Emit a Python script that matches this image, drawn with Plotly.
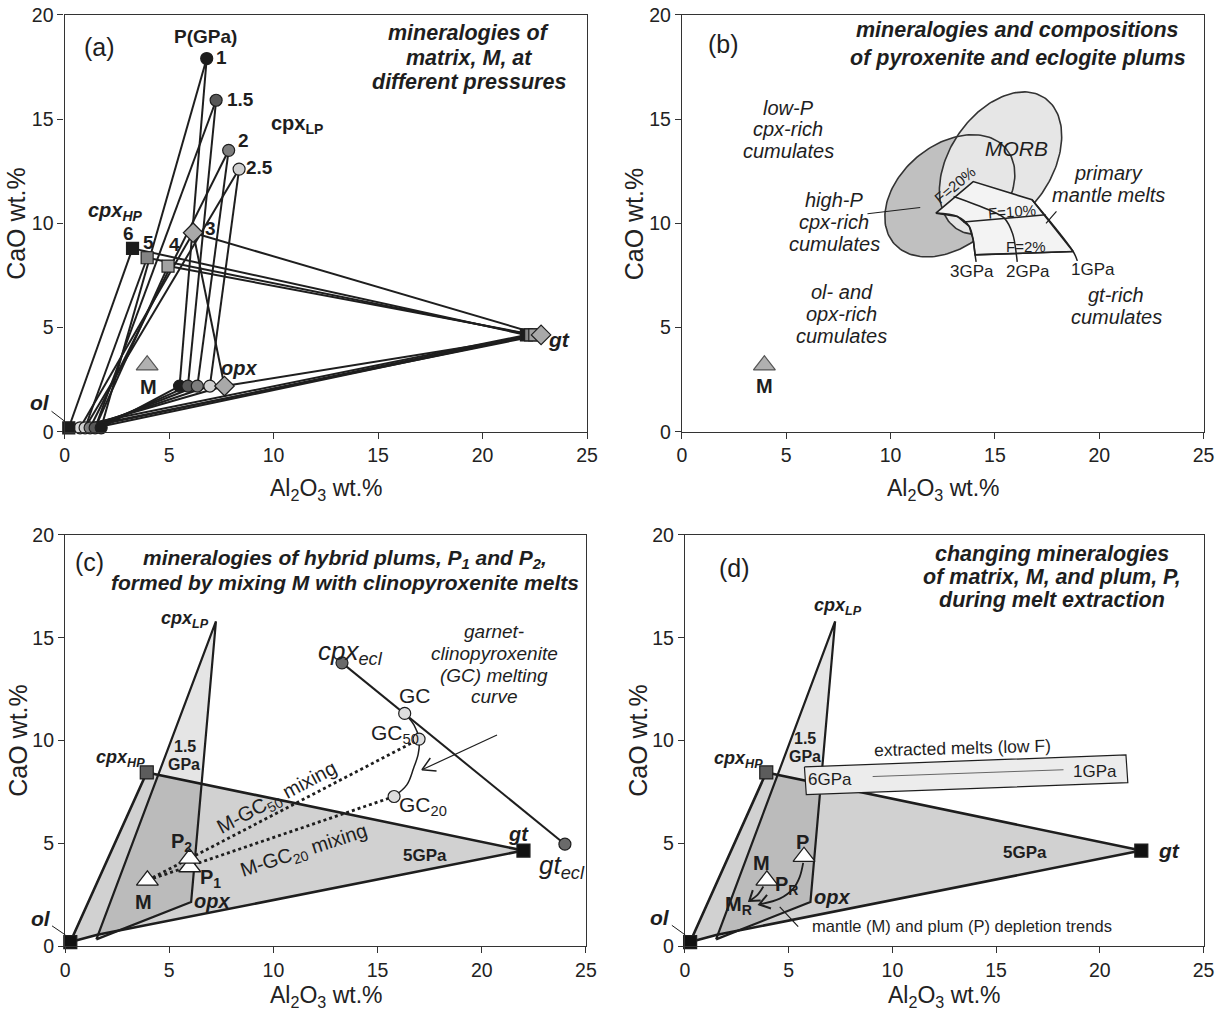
import numpy as np
import plotly.graph_objects as go

FONT = "Liberation Sans, Arial, Helvetica, sans-serif"
INK = "#1e1e1e"
W, H = 1217, 1023

# ---------------- axes ----------------
al_ticks = [0, 5, 10, 15, 20, 25]
ca_ticks = [0, 5, 10, 15, 20]

# ---------------- (a) matrix mineralogy at different pressures ----------------
lp_labels = ["1", "1.5", "2", "2.5"]
lp_cpx_al = [6.8, 7.25, 7.85, 8.35]
lp_cpx_ca = [17.9, 15.9, 13.5, 12.6]
lp_opx_al = [5.5, 5.9, 6.35, 6.95]
lp_opx_ca = [2.2, 2.2, 2.2, 2.2]
lp_olsp_al = [1.75, 1.46, 1.22, 0.98]
lp_olsp_ca = [0.2, 0.2, 0.2, 0.2]
lp_fill = ["#1c1c1c", "#575757", "#7d7d7d", "#d0d0d0"]

hp_labels = ["3", "4", "5", "6"]
hp_cpx_al = [6.15, 4.95, 3.95, 3.25]
hp_cpx_ca = [9.55, 7.95, 8.35, 8.8]
hp_ol_al = [0.74, 1.46, 0.98, 0.2]
hp_ol_ca = [0.2, 0.2, 0.2, 0.2]
hp_gt_al = [22.8, 22.5, 22.3, 22.1]
hp_gt_ca = [4.65, 4.65, 4.65, 4.65]
hp_fill = ["#a9a9a9", "#a2a2a2", "#858585", "#1c1c1c"]
hp_symbol = ["diamond", "square", "square", "square"]
opx_3gpa = [7.65, 2.2]

matrix_M = [3.95, 3.2]

# ---------------- (b) compositional fields ----------------
field_names = ["high-P cpx-rich cumulates", "MORB"]
field_al = [12.84, 15.27]
field_ca = [11.32, 12.88]
field_a = [3.52, 3.78]
field_b = [2.43, 2.45]
field_tilt = [40, 56]

# primary mantle melts: isobars and melt-fraction contours
iso3_al = [12.17, 13.2, 13.77, 13.96, 14.05, 14.1]
iso3_ca = [10.49, 10.33, 9.85, 9.21, 8.49, 8.15]
iso2_al = [13.02, 14.7, 15.45, 15.85, 16.03, 16.07]
iso2_ca = [11.29, 10.65, 10.25, 9.5, 8.49, 8.15]
iso1_al = [16.78, 18.75, 18.95]
iso1_ca = [11.13, 8.65, 8.2]
f20_al = [12.17, 13.96, 16.78]
f20_ca = [10.49, 12.0, 11.13]
f10_al = [13.49, 17.43]
f10_ca = [10.06, 10.41]
f02_al = [14.05, 18.75]
f02_ca = [8.49, 8.65]

# ---------------- (c, d) end-member minerals ----------------
mn_names = ["ol", "ol+sp", "opx", "cpx_HP", "cpx_LP", "gt", "gl_base"]
mn_al = [0.25, 1.5, 6.05, 3.92, 7.24, 22.0, 1.55]
mn_ca = [0.2, 0.33, 2.15, 8.45, 15.8, 4.65, 0.55]
field_5gpa = ["ol", "cpx_HP", "gt", "gl_base"]
field_15gpa = ["ol+sp", "cpx_LP", "opx"]

# eclogite and garnet-clinopyroxenite melts
ecl_al = [13.29, 23.99]
ecl_ca = [13.78, 4.96]
gc_names = ["GC", "GC50", "GC20"]
gc_al = [16.3, 16.99, 15.79]
gc_ca = [11.32, 10.07, 7.28]
melt_curve_al = [16.3, 16.75, 16.99, 16.95, 16.73, 16.41, 15.79]
melt_curve_ca = [11.32, 10.75, 10.07, 9.35, 8.67, 7.86, 7.28]
hybrid_names = ["P1", "P2"]
hybrid_al = [5.98, 5.98]
hybrid_ca = [3.85, 4.27]

# (d) plum, depletion paths and extracted low-F melts
plum_P = [5.74, 4.35]
plum_path_al = [5.7, 5.53, 5.22, 4.57, 3.58]
plum_path_ca = [4.05, 3.36, 2.8, 2.31, 2.03]
matrix_path_al = [3.78, 3.5, 3.1]
matrix_path_ca = [2.9, 2.5, 2.2]
melt_box_al = [5.76, 21.26, 21.35, 5.85, 5.76]
melt_box_ca = [8.72, 9.3, 7.95, 7.37, 8.72]
melt_trend_al = [9.05, 18.25]
melt_trend_ca = [8.25, 8.58]

PANELS = {"a": ("x", "y"), "b": ("x2", "y2"), "c": ("x3", "y3"), "d": ("x4", "y4")}
# plot-area extents in figure pixels: (left, right), (top, bottom)
DOMAINS = {"a": ((60.4, 589.8), (3.8, 430.2)), "b": ((686.0, 1214.5), (3.8, 430.2)),
           "c": ((60.9, 588.7), (535.5, 955.7)), "d": ((689.0, 1214.5), (535.5, 955.7))}
# vertical position of the Al2O3 axis title, in axis-domain fractions
XTITLE_Y = {"a": -0.137, "b": -0.137, "c": -0.122, "d": -0.122}

fig = go.Figure()


def add_lines(p, xs, ys, width=2.0, color=INK, dash="solid", shape="linear",
              fill=None, fillcolor=None):
    xa, ya = PANELS[p]
    fig.add_trace(go.Scatter(
        x=xs, y=ys, xaxis=xa, yaxis=ya, mode="lines",
        line=dict(color=color, width=width, dash=dash, shape=shape),
        fill=fill, fillcolor=fillcolor, hoverinfo="skip", showlegend=False))


def add_marks(p, xs, ys, symbol, color, size=12, edge=INK, edgew=1.2):
    xa, ya = PANELS[p]
    fig.add_trace(go.Scatter(
        x=xs, y=ys, xaxis=xa, yaxis=ya, mode="markers", cliponaxis=False,
        marker=dict(symbol=symbol, color=color, size=size,
                    line=dict(color=edge, width=edgew)),
        hoverinfo="skip", showlegend=False))


def txt(p, x, y, s, size=20, angle=0, xanchor="center", color=INK):
    xa, ya = PANELS[p]
    fig.add_annotation(xref=xa, yref=ya, x=x, y=y, text=s, showarrow=False,
                       textangle=angle, xanchor=xanchor, yanchor="middle",
                       font=dict(family=FONT, size=size, color=color))


def leader(p, x, y, s, ax, ay, size=20):
    xa, ya = PANELS[p]
    fig.add_annotation(xref=xa, yref=ya, x=x, y=y, text=s, showarrow=True,
                       arrowhead=0, arrowwidth=1, arrowcolor=INK, ax=ax, ay=ay,
                       standoff=0, startstandoff=0,
                       font=dict(family=FONT, size=size, color=INK))


def segs(pairs):
    xs, ys = [], []
    for (x0, y0), (x1, y1) in pairs:
        xs += [x0, x1, None]
        ys += [y0, y1, None]
    return xs, ys


def chevron(x_from, y_from, x_tip, y_tip, length=0.6, spread=32):
    ang = np.arctan2(y_tip - y_from, x_tip - x_from)
    arms = []
    for s in (1, -1):
        a = ang + np.pi + s * np.radians(spread)
        arms.append((x_tip + length * np.cos(a), y_tip + length * np.sin(a)))
    return [arms[0][0], x_tip, arms[1][0]], [arms[0][1], y_tip, arms[1][1]]


def ellipse(cx, cy, a, b, tilt, n=160):
    t = np.linspace(0, 2 * np.pi, n)
    th = np.radians(tilt)
    x = cx + a * np.cos(t) * np.cos(th) - b * np.sin(t) * np.sin(th)
    y = cy + a * np.cos(t) * np.sin(th) + b * np.sin(t) * np.cos(th)
    return x, y


def bi(s):
    return f"<b><i>{s}</i></b>"


def it(s):
    return f"<i>{s}</i>"


def mineral(name):
    i = mn_names.index(name)
    return mn_al[i], mn_ca[i]


def block(p, x, y_top, dy, lines, size, fmt=lambda s: s):
    for k, line in enumerate(lines):
        txt(p, x, y_top - k * dy, fmt(line), size=size)


# ======================= (a) =======================
pairs = []
for i in range(len(lp_labels)):
    c = (lp_cpx_al[i], lp_cpx_ca[i])
    o = (lp_opx_al[i], lp_opx_ca[i])
    s = (lp_olsp_al[i], lp_olsp_ca[i])
    pairs += [(c, s), (c, o), (o, s)]
for i in range(len(hp_labels)):
    c = (hp_cpx_al[i], hp_cpx_ca[i])
    l = (hp_ol_al[i], hp_ol_ca[i])
    g = (hp_gt_al[i], hp_gt_ca[i])
    pairs += [(c, l), (c, g), (l, g)]
c3 = (hp_cpx_al[0], hp_cpx_ca[0])
g3 = (hp_gt_al[0], hp_gt_ca[0])
l3 = (hp_ol_al[0], hp_ol_ca[0])
o3 = tuple(opx_3gpa)
pairs += [(c3, o3), (o3, g3), (o3, l3)]
xs, ys = segs(pairs)
add_lines("a", xs, ys, width=2.0)

# ol + sp row, left to right
add_marks("a", [hp_ol_al[0]], [hp_ol_ca[0]], "circle", "#dadada", 12)
for i in reversed(range(len(lp_labels))):
    add_marks("a", [lp_olsp_al[i]], [lp_olsp_ca[i]], "circle", lp_fill[i], 12)
add_marks("a", [hp_ol_al[3]], [hp_ol_ca[3]], "square", "#1c1c1c", 12)
for i in range(len(lp_labels)):
    add_marks("a", [lp_opx_al[i]], [lp_opx_ca[i]], "circle", lp_fill[i], 12)
    add_marks("a", [lp_cpx_al[i]], [lp_cpx_ca[i]], "circle", lp_fill[i], 12)
add_marks("a", [opx_3gpa[0]], [opx_3gpa[1]], "diamond", hp_fill[0], 15)
for i in reversed(range(len(hp_labels))):
    sz = 15 if hp_symbol[i] == "diamond" else 12
    add_marks("a", [hp_gt_al[i]], [hp_gt_ca[i]], hp_symbol[i], hp_fill[i], sz)
    add_marks("a", [hp_cpx_al[i]], [hp_cpx_ca[i]], hp_symbol[i], hp_fill[i], sz)
add_marks("a", [matrix_M[0]], [matrix_M[1]], "triangle-up", "#b0b0b0", 19, "#555", 1.2)

txt("a", 1.65, 18.45, "(a)", size=25)
txt("a", 6.72, 18.94, "<b>P(GPa)</b>", size=19)
for lab, x, y in zip(lp_labels + hp_labels,
                     [7.49, 8.44, 8.54, 9.35, 6.96, 5.24, 4.0, 3.04],
                     [17.94, 15.92, 13.96, 12.66, 9.74, 8.97, 9.06, 9.5]):
    txt("a", x, y, f"<b>{lab}</b>", size=19)
txt("a", 11.12, 14.75, "<b>cpx<sub>LP</sub></b>", size=20)
txt("a", 2.42, 10.55, bi("cpx<sub>HP</sub>"), size=20)
txt("a", 4.03, 2.17, "<b>M</b>", size=20)
txt("a", 8.33, 3.05, bi("opx"), size=20)
txt("a", 23.64, 4.41, bi("gt"), size=21)
txt("a", 2.03, -0.86, bi("ol+sp"), size=21)
leader("a", 0.02, 0.5, bi("ol"), -25, -19, size=21)
block("a", 19.35, 19.1, 1.17, ["mineralogies of", "matrix, M, at", "different pressures"],
      21.5, bi)

# ======================= (b) =======================
ex, ey = ellipse(field_al[0], field_ca[0], field_a[0], field_b[0], field_tilt[0])
mx, my = ellipse(field_al[1], field_ca[1], field_a[1], field_b[1], field_tilt[1])
add_lines("b", ex, ey, width=0, fill="toself", fillcolor="#c0c0c0")
add_lines("b", mx, my, width=0, fill="toself", fillcolor="#e6e6e6")
add_lines("b", ex, ey, width=1.6, color="#333")
add_lines("b", mx, my, width=1.6, color="#333")

outline_al = f20_al + iso1_al[1:2] + f02_al[::-1] + iso3_al[4::-1]
outline_ca = f20_ca + iso1_ca[1:2] + f02_ca[::-1] + iso3_ca[4::-1]
add_lines("b", outline_al, outline_ca, width=1.6, color="#222", fill="toself",
          fillcolor="#f3f3f3")
for xs_, ys_ in [(iso3_al, iso3_ca), (iso2_al, iso2_ca), (iso1_al, iso1_ca),
                 (f10_al, f10_ca), (f02_al, f02_ca)]:
    add_lines("b", xs_, ys_, width=1.5, color="#222", shape="spline")

add_lines("b", [8.89, 11.42], [10.46, 10.76], width=1.2)
add_lines("b", [17.95, 17.45], [10.57, 10.0], width=1.2)
add_marks("b", [matrix_M[0]], [matrix_M[1]], "triangle-up", "#b0b0b0", 19, "#555", 1.2)

txt("b", 2.01, 18.6, "(b)", size=25)
block("b", 16.1, 19.28, 1.34, ["mineralogies and compositions",
                               "of pyroxenite and eclogite plums"], 21.5, bi)
block("b", 5.1, 15.55, 1.05, ["low-P", "cpx-rich", "cumulates"], 20, it)
block("b", 7.3, 11.13, 1.07, ["high-P", "cpx-rich", "cumulates"], 20, it)
block("b", 7.67, 6.73, 1.06, ["ol- and", "opx-rich", "cumulates"], 20, it)
block("b", 20.81, 6.57, 1.04, ["gt-rich", "cumulates"], 20, it)
block("b", 20.44, 12.41, 1.04, ["primary", "mantle melts"], 20, it)
txt("b", 16.03, 13.6, it("MORB"), size=21)
txt("b", 13.9, 7.69, "3GPa", size=17)
txt("b", 16.59, 7.69, "2GPa", size=17)
txt("b", 19.68, 7.77, "1GPa", size=17)
txt("b", 13.11, 11.85, "F=20%", size=15, angle=-40)
txt("b", 15.84, 10.57, "F=10%", size=15, angle=-4)
txt("b", 16.49, 8.89, "F=2%", size=15)
txt("b", matrix_M[0], 2.21, "<b>M</b>", size=20)

# ======================= (c) and (d) shared mineral fields =======================
for p in "cd":
    fx = [mineral(n)[0] for n in field_5gpa] + [mineral(field_5gpa[0])[0]]
    fy = [mineral(n)[1] for n in field_5gpa] + [mineral(field_5gpa[0])[1]]
    add_lines(p, fx, fy, width=2.6, fill="toself", fillcolor="rgba(0,0,0,0.18)")
    sx = [mineral(n)[0] for n in field_15gpa] + [mineral(field_15gpa[0])[0]]
    sy = [mineral(n)[1] for n in field_15gpa] + [mineral(field_15gpa[0])[1]]
    add_lines(p, sx, sy, width=2.2, fill="toself", fillcolor="rgba(0,0,0,0.10)")

# ======================= (c) =======================
add_lines("c", ecl_al, ecl_ca, width=2.0)
add_lines("c", melt_curve_al, melt_curve_ca, width=1.5, shape="spline")
for k in (1, 2):
    add_lines("c", [matrix_M[0], gc_al[k]], [matrix_M[1], gc_ca[k]], width=2.8, dash="dot")
# arrow pointing at the melting curve
arr_al = [20.73, 17.13]
arr_ca = [10.27, 8.58]
add_lines("c", arr_al, arr_ca, width=1.2)
cx_, cy_ = chevron(arr_al[0], arr_ca[0], arr_al[1], arr_ca[1], length=0.7, spread=30)
add_lines("c", cx_, cy_, width=1.5)

for p in "cd":
    add_marks(p, [mineral("ol")[0]], [mineral("ol")[1]], "square", "#111", 13)
    add_marks(p, [mineral("cpx_HP")[0]], [mineral("cpx_HP")[1]], "square", "#5c5c5c", 13)
    add_marks(p, [mineral("gt")[0]], [mineral("gt")[1]], "square", "#111", 13)
add_marks("c", ecl_al, ecl_ca, "circle", "#6a6a6a", 12)
add_marks("c", gc_al, gc_ca, "circle", "#dedede", 12)
add_marks("c", [matrix_M[0]], [matrix_M[1]], "triangle-up", "white", 19, INK, 1.3)
add_marks("c", hybrid_al, hybrid_ca, "triangle-up", "white", 19, INK, 1.3)

txt("c", 1.15, 18.7, "(c)", size=25)
txt("c", 13.44, 18.84, bi("mineralogies of hybrid plums, P<sub>1</sub> and P<sub>2</sub>,"), size=21)
txt("c", 13.44, 17.69, bi("formed by mixing M with clinopyroxenite melts"), size=21)
txt("c", 5.76, 15.9, bi("cpx<sub>LP</sub>"), size=18)
txt("c", 2.64, 9.11, bi("cpx<sub>HP</sub>"), size=18)
txt("c", 5.77, 9.7, "<b>1.5</b>", size=16)
txt("c", 5.7, 8.82, "<b>GPa</b>", size=16)
txt("c", 17.29, 4.4, "<b>5GPa</b>", size=17)
txt("c", 21.74, 5.45, bi("gt"), size=20)
txt("c", 7.05, 2.2, bi("opx"), size=20)
txt("c", 3.78, 2.15, "<b>M</b>", size=20)
txt("c", 5.61, 5.05, "<b>P<sub>2</sub></b>", size=20)
txt("c", 6.97, 3.28, "<b>P<sub>1</sub></b>", size=20)
txt("c", 2.17, -0.82, bi("ol+sp"), size=21)
leader("c", 0.02, 0.54, bi("ol"), -25, -17, size=21)
txt("c", 13.72, 14.3, it("cpx<sub>ecl</sub>"), size=26)
txt("c", 23.85, 3.85, it("gt<sub>ecl</sub>"), size=26)
txt("c", 16.81, 12.19, "GC", size=21)
txt("c", 15.85, 10.3, "GC<sub>50</sub>", size=21)
txt("c", 17.2, 6.8, "GC<sub>20</sub>", size=21)
txt("c", 10.17, 7.2, "M-GC<sub>50</sub> mixing", size=20, angle=-28)
txt("c", 11.45, 4.6, "M-GC<sub>20</sub> mixing", size=20, angle=-18)
block("c", 20.6, 15.3, 1.06, ["garnet-", "clinopyroxenite", "(GC) melting", "curve"], 19, it)

# ======================= (d) =======================
add_lines("d", melt_box_al, melt_box_ca, width=1.2, fill="toself", fillcolor="#ececec")
add_lines("d", melt_trend_al, melt_trend_ca, width=1.0, color="#666")
add_lines("d", plum_path_al, plum_path_ca, width=1.8, shape="spline")
px_, py_ = chevron(plum_path_al[-2], plum_path_ca[-2], plum_path_al[-1], plum_path_ca[-1],
                   length=0.6, spread=35)
add_lines("d", px_, py_, width=2.0)
add_lines("d", matrix_path_al, matrix_path_ca, width=1.8, shape="spline")
mx_, my_ = chevron(matrix_path_al[-2], matrix_path_ca[-2], matrix_path_al[-1],
                   matrix_path_ca[-1], length=0.55, spread=35)
add_lines("d", mx_, my_, width=2.0)
add_lines("d", [5.46, 4.57], [0.95, 1.91], width=1.2)
add_marks("d", [matrix_M[0]], [matrix_M[1]], "triangle-up", "white", 19, INK, 1.3)
add_marks("d", [plum_P[0]], [plum_P[1]], "triangle-up", "white", 19, INK, 1.3)

txt("d", 2.41, 18.38, "(d)", size=25)
block("d", 17.71, 19.08, 1.13, ["changing mineralogies", "of matrix, M, and plum, P,",
                                "during melt extraction"], 21.5, bi)
txt("d", 7.39, 16.53, bi("cpx<sub>LP</sub>"), size=18)
txt("d", 2.6, 9.06, bi("cpx<sub>HP</sub>"), size=18)
txt("d", 5.77, 10.1, "<b>1.5</b>", size=16)
txt("d", 5.77, 9.22, "<b>GPa</b>", size=16)
txt("d", 16.41, 4.56, "<b>5GPa</b>", size=17)
txt("d", 23.32, 4.63, bi("gt"), size=21)
txt("d", 7.1, 2.39, bi("opx"), size=20)
txt("d", 3.69, 4.03, "<b>M</b>", size=20)
txt("d", 5.69, 5.09, "<b>P</b>", size=20)
txt("d", 4.89, 2.95, "<b>P<sub>R</sub></b>", size=20)
txt("d", 2.58, 1.99, "<b>M<sub>R</sub></b>", size=20)
txt("d", 1.86, -1.14, bi("ol+sp"), size=21)
leader("d", 0.02, 0.54, bi("ol"), -25, -18, size=21)
txt("d", 13.37, 9.62, "extracted melts (low F)", size=17.5, angle=-1.5)
txt("d", 6.97, 8.1, "6GPa", size=17)
txt("d", 19.77, 8.5, "1GPa", size=17)
txt("d", 13.34, 0.96, "mantle (M) and plum (P) depletion trends", size=16.5)

# ======================= axes =======================
axis_common = dict(showgrid=False, zeroline=False, showline=True, linecolor="#333",
                   linewidth=1.3, mirror=True, ticks="outside", ticklen=6, tickwidth=1.2,
                   tickcolor="#333", tickfont=dict(family=FONT, size=19.5, color="#222"),
                   fixedrange=True)
layout_axes = {}
for k, p in enumerate("abcd"):
    (x0, x1), (y0, y1) = DOMAINS[p]
    suffix = "" if k == 0 else str(k + 1)
    layout_axes["xaxis" + suffix] = dict(domain=[x0 / W, x1 / W], anchor="y" + suffix,
                                         range=[0, 25], tickvals=al_ticks, **axis_common)
    layout_axes["yaxis" + suffix] = dict(domain=[1 - y1 / H, 1 - y0 / H], anchor="x" + suffix,
                                         range=[0, 20], tickvals=ca_ticks, **axis_common)
    xa, ya = PANELS[p]
    fig.add_annotation(xref=f"{xa} domain", yref=f"{ya} domain", x=0.5, y=XTITLE_Y[p],
                       text="Al<sub>2</sub>O<sub>3</sub> wt.%", showarrow=False,
                       xanchor="center", yanchor="middle",
                       font=dict(family=FONT, size=23, color="#222"))
    fig.add_annotation(xref=f"{xa} domain", yref=f"{ya} domain", x=-0.092, y=0.5,
                       text="CaO wt.%", showarrow=False, textangle=-90,
                       xanchor="center", yanchor="middle",
                       font=dict(family=FONT, size=25, color="#222"))

fig.update_layout(width=W, height=H, margin=dict(l=0, r=0, t=0, b=0),
                  paper_bgcolor="white", plot_bgcolor="white", showlegend=False,
                  **layout_axes)

fig.write_html("out.html", config={"displayModeBar": False})
